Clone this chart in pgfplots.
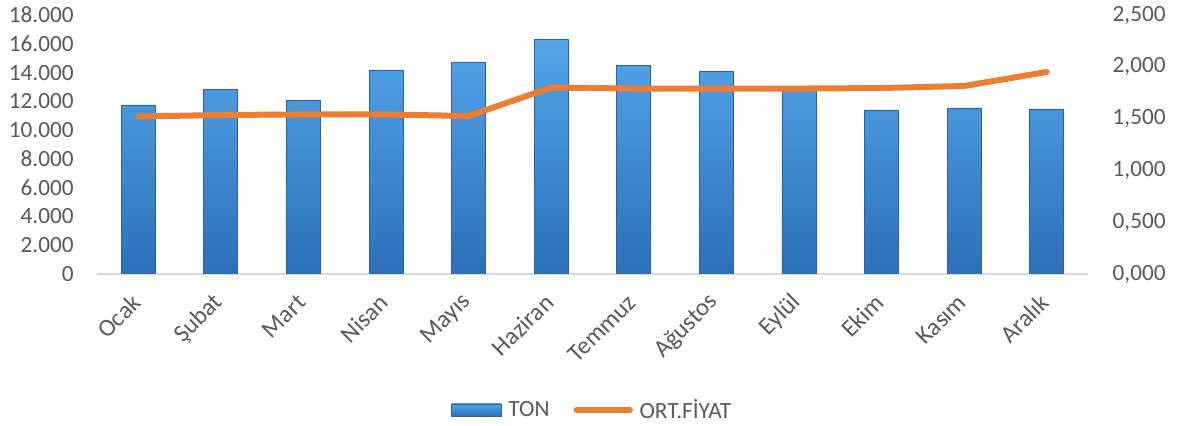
\documentclass[border=0pt]{standalone}
\usepackage{fontspec}
\setmainfont{Carlito}
\usepackage{pgfplots}
\usepackage{pgfplotstable}
\pgfplotsset{compat=1.18}

\definecolor{txtgray}{RGB}{89,89,89}
\definecolor{bartop}{RGB}{84,164,232}
\definecolor{barbot}{RGB}{44,112,186}
\definecolor{baredge}{RGB}{40,100,165}
\definecolor{lineor}{RGB}{237,125,49}
\definecolor{axgray}{RGB}{217,217,217}

\pgfplotsset{
    barleg/.style={legend image code/.code={
        \draw[draw=baredge, line width=0.6bp, top color=bartop, bottom color=barbot]
        (0bp,-4.5bp) rectangle (37.5bp,4.5bp);}},
    lineleg/.style={legend image code/.code={\draw[##1] (0bp,0bp) -- (40bp,0bp);}},
}

% ay, ton, ort. fiyat
\pgfplotstableread{
x ton fiyat
0  11750 1.520
1  12850 1.535
2  12050 1.540
3  14180 1.540
4  14740 1.525
5  16330 1.800
6  14480 1.790
7  14110 1.790
8  12790 1.790
9  11400 1.795
10 11540 1.815
11 11470 1.950
}\data

\begin{document}
\begin{tikzpicture}
\path[use as bounding box] (-72.75bp,-114bp) rectangle (810.75bp,205.5bp);

\begin{axis}[
    at={(0bp,0bp)}, anchor=south west,
    scale only axis,
    width=743.25bp, height=194.25bp,
    xmin=-0.5, xmax=11.5,
    ymin=0, ymax=18000,
    axis x line*=bottom, axis y line*=left,
    x axis line style={draw=axgray, line width=1bp, -},
    y axis line style={draw=none},
    major tick length=0,
    xtick={0,...,11},
    xticklabels={Ocak,Şubat,Mart,Nisan,Mayıs,Haziran,Temmuz,Ağustos,Eylül,Ekim,Kasım,Aralık},
    ytick={0,2000,...,18000},
    scaled y ticks=false,
    tick label style={font=\fontsize{17.5}{20}\selectfont, text=txtgray},
    yticklabel style={xshift=-14bp},
    xticklabel style={xshift=1bp, yshift=-16bp, rotate=45, anchor=east, font=\fontsize{18.5}{20}\selectfont},
    /pgf/number format/.cd, fixed, 1000 sep={.}, assume math mode=true,
]
\addplot[ybar, bar width=25.5bp, draw=baredge, line width=0.6bp,
    top color=bartop, bottom color=barbot]
    table[x=x, y=ton] {\data};
\end{axis}

\begin{axis}[
    at={(0bp,0bp)}, anchor=south west,
    scale only axis,
    width=743.25bp, height=194.25bp,
    xmin=-0.5, xmax=11.5,
    ymin=0, ymax=2.5,
    axis x line=none, axis y line*=right,
    y axis line style={draw=none},
    major tick length=0,
    ytick={0,0.5,...,2.5},
    tick label style={font=\fontsize{17.5}{20}\selectfont, text=txtgray},
    yticklabel style={xshift=15bp},
    yticklabel style={/pgf/number format/.cd, fixed, fixed zerofill, precision=3, use comma, assume math mode=true},
    legend style={at={(0.5,-0.525)}, anchor=center, draw=none, fill=none,
        font=\fontsize{17.5}{20}\selectfont, text=txtgray, legend columns=2,
        /tikz/every even column/.append style={column sep=16bp},
        /tikz/every odd column/.append style={column sep=3bp}},
]
\addlegendimage{barleg}
\addlegendentry{TON}
\addplot[lineor, line width=4.5bp, line cap=round, line join=round, lineleg]
    table[x=x, y=fiyat] {\data};
\addlegendentry{ORT.FİYAT}
\end{axis}
\end{tikzpicture}
\end{document}
